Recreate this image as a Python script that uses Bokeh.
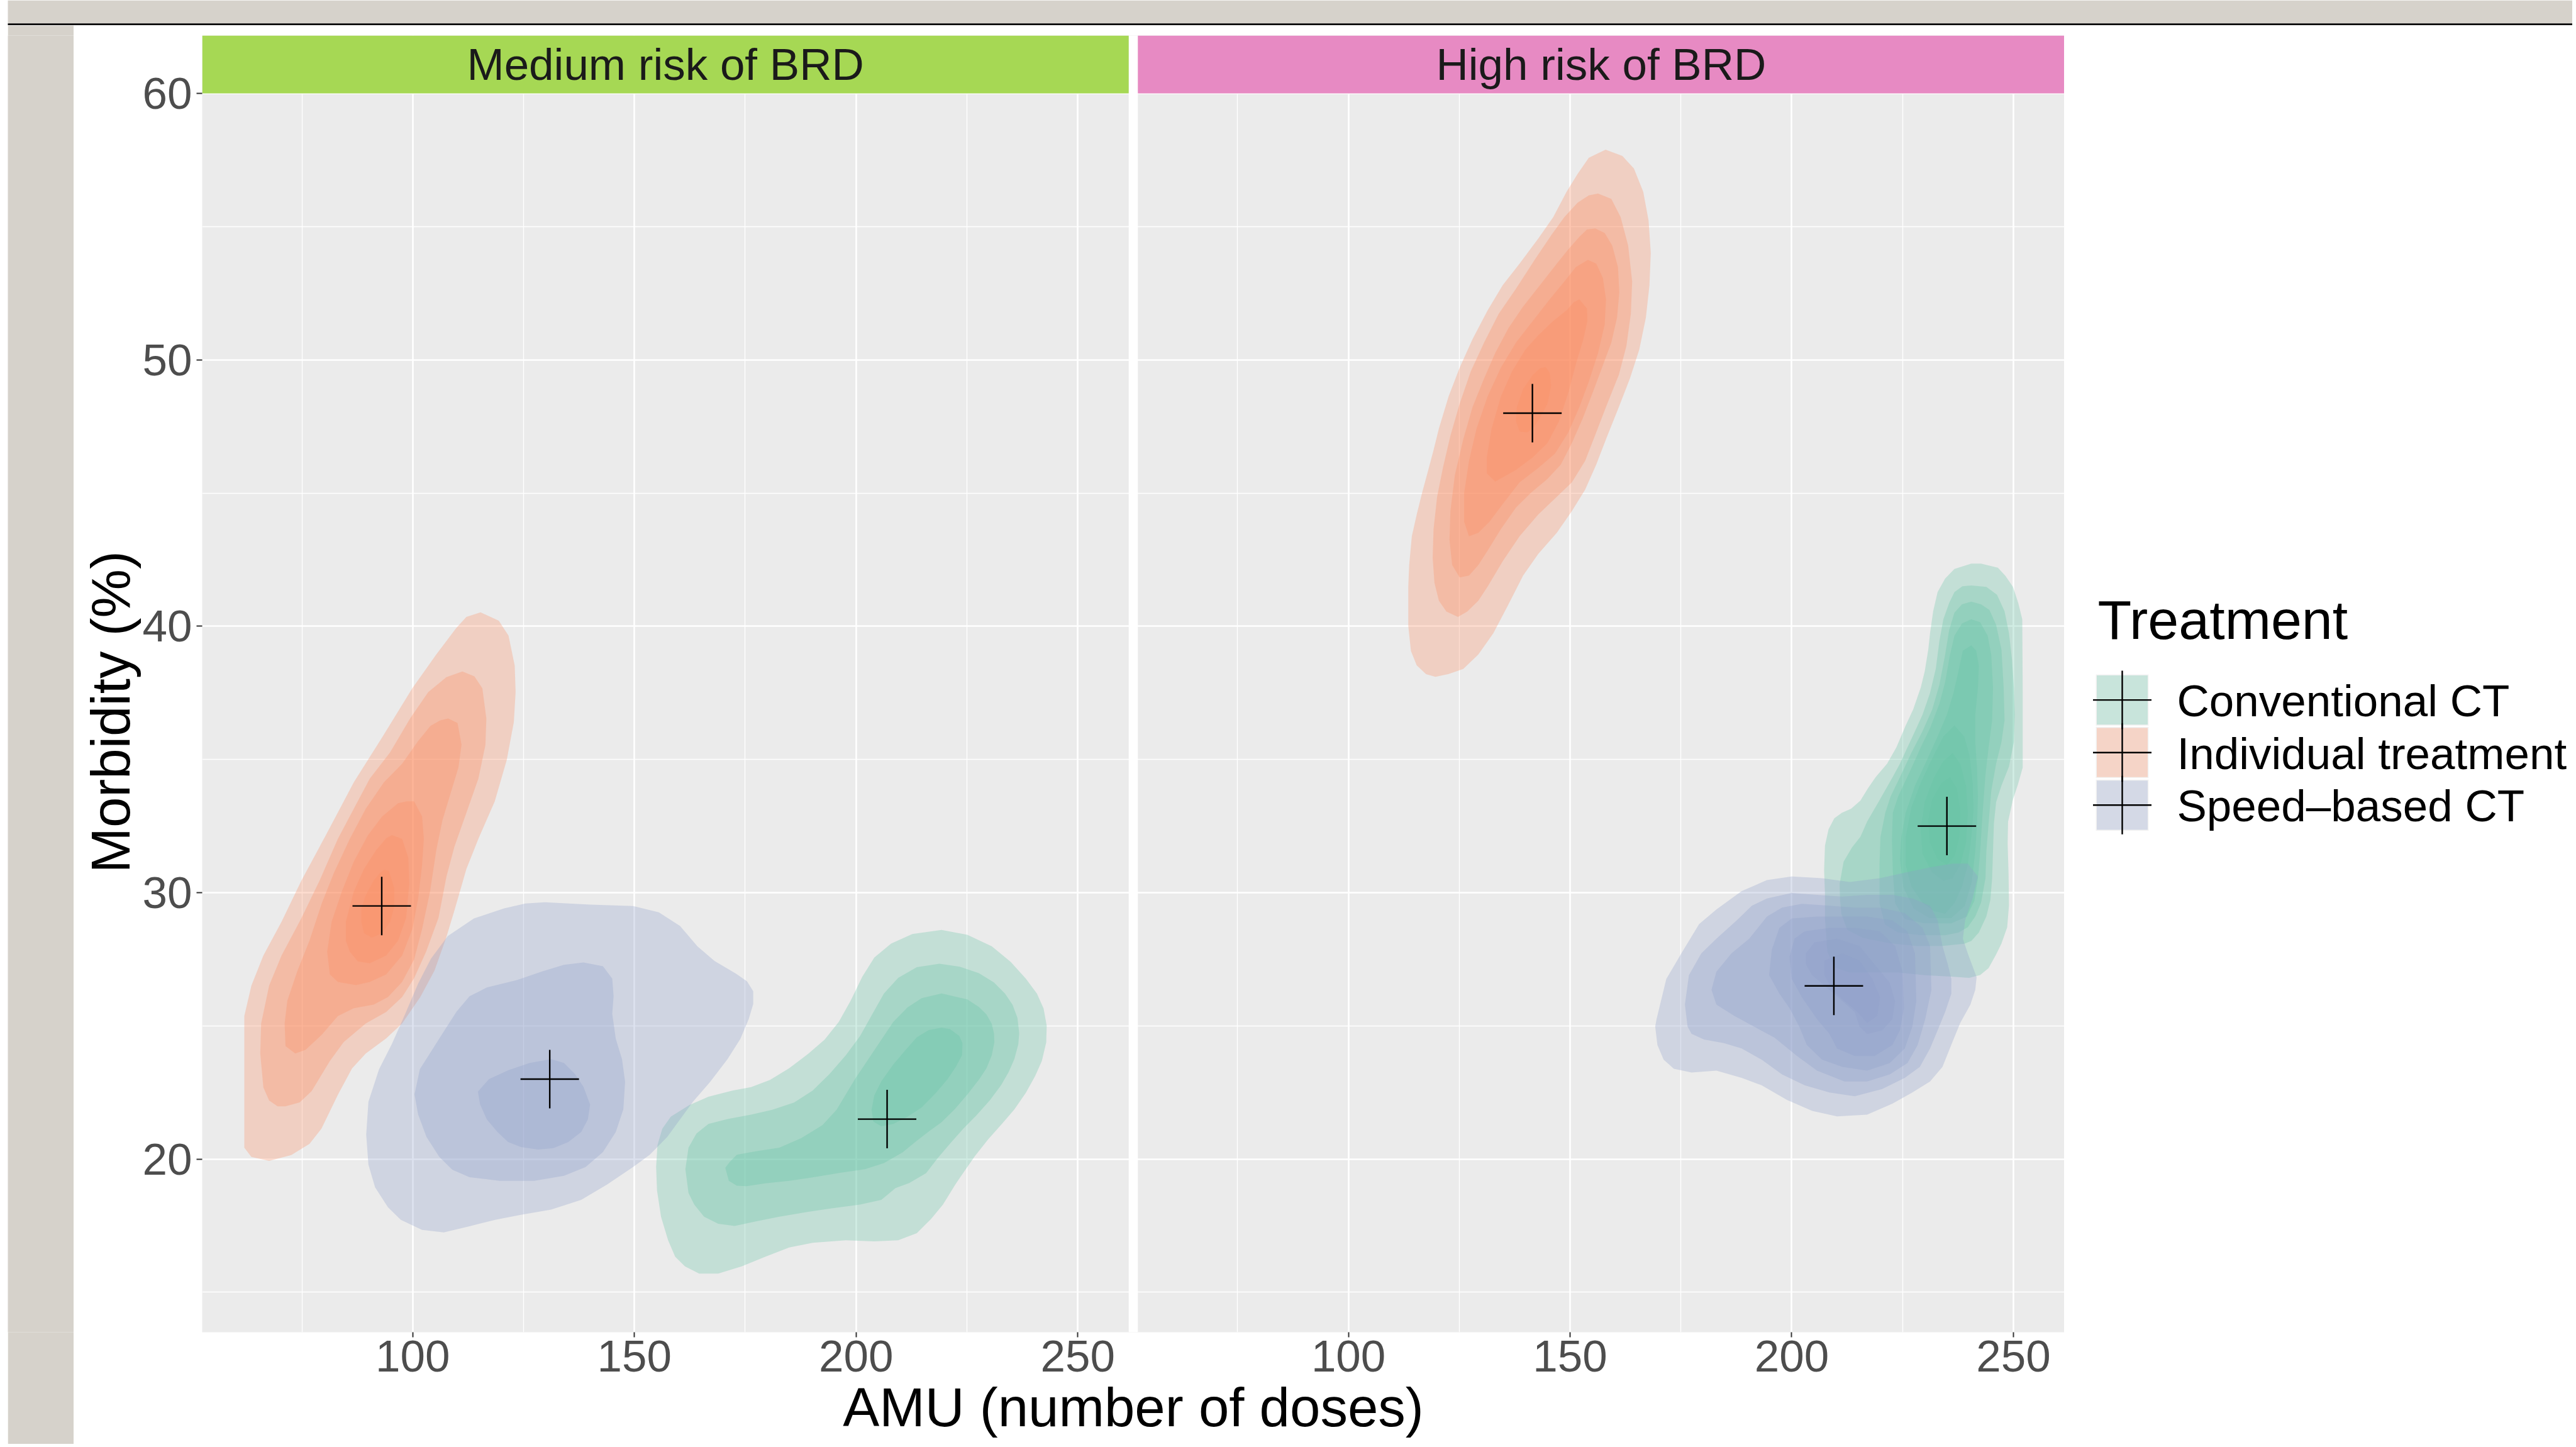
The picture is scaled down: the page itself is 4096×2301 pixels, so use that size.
from bokeh.plotting import figure
from bokeh.models import Range1d, FixedTicker, CustomJSTickFormatter, Title
from bokeh.layouts import row, column
from bokeh.embed import file_html
from bokeh.resources import INLINE
from bokeh.core.properties import value

FONT = "Liberation Sans"

# ---------------- data ----------------
TREATMENTS = ["Conventional CT", "Individual treatment", "Speed\u2013based CT"]
COLORS = ["#66C2A5", "#FC8D62", "#8DA0CB"]
PANELS = ["Medium risk of BRD", "High risk of BRD"]
STRIP_COLORS = ["#A6D854", "#E78AC3"]

X_TICKS = [100, 150, 200, 250]
X_MINOR = [75, 125, 175, 225]
Y_TICKS = [20, 30, 40, 50, 60]
Y_MINOR = [15, 25, 35, 45, 55]

# mean (AMU, morbidity) per treatment: Conventional, Individual, Speed-based
MED_CENTRES = [(207.0, 21.5), (93.0, 29.5), (130.9, 23.0)]
HIGH_CENTRES = [(235.0, 32.5), (141.5, 48.0), (209.5, 26.5)]

# density contour polygons (AMU, morbidity), outer level first
MED_CONV = [
    [(219.3,28.60),(225.1,28.42),(230.6,27.99),(234.9,27.40),(238.3,26.77),(240.8,26.21),(242.3,25.65),(243.0,25.01),
     (242.9,24.38),(241.9,23.68),(240.4,23.12),(238.3,22.49),(235.7,21.86),(232.8,21.30),(229.8,20.74),(226.8,20.11),
     (224.7,19.61),(222.4,19.05),(219.6,18.29),(216.9,17.75),(213.7,17.22),(209.5,16.95),(204.1,16.91),(197.7,16.95),
     (190.2,16.86),(184.9,16.68),(179.5,16.33),(174.2,15.97),(168.9,15.70),(164.6,15.70),(161.4,15.97),(159.2,16.33),
     (157.6,16.95),(156.0,17.84),(155.1,18.82),(154.9,19.71),(155.2,20.52),(156.3,21.14),(158.2,21.59),(162.4,22.03),
     (166.7,22.34),(172.1,22.57),(176.3,22.70),(180.6,22.97),(184.9,23.41),(189.2,23.95),(192.9,24.48),(196.1,25.15),
     (198.8,25.95),(201.4,26.84),(204.1,27.56),(207.9,28.09),(212.7,28.45)],
    [(218.8,27.33),(223.4,27.22),(227.7,26.98),(231.1,26.63),(233.6,26.21),(235.3,25.79),(236.4,25.30),(236.8,24.73),
     (236.6,24.31),(235.7,23.75),(234.4,23.26),(232.7,22.77),(230.2,22.21),(227.2,21.65),(224.3,21.16),(221.3,20.60),
     (218.4,20.03),(215.8,19.47),(212.0,19.10),(208.9,18.91),(205.7,18.47),(200.9,18.29),(194.5,18.15),(189.2,18.02),
     (182.7,17.84),(177.4,17.66),(172.6,17.49),(168.9,17.57),(165.7,17.84),(163.5,18.29),(162.2,18.73),(161.5,19.62),
     (162.2,20.43),(164.0,20.96),(166.7,21.32),(171.0,21.50),(176.3,21.67),(181.1,21.85),(186.0,22.12),(190.2,22.57),
     (194.0,23.19),(197.7,23.90),(200.9,24.62),(203.6,25.42),(206.3,26.22),(209.5,26.80),(213.7,27.20)],
    [(219.3,26.22),(225.1,25.99),(227.7,25.71),(229.4,25.43),(230.6,25.08),(231.1,24.73),(231.2,24.38),(230.6,23.89),
     (229.4,23.40),(227.7,22.98),(225.1,22.42),(222.2,21.86),(219.2,21.37),(216.5,21.05),(213.7,20.69),(210.5,20.25),
     (206.3,19.85),(202.0,19.62),(196.6,19.49),(190.2,19.31),(184.9,19.18),(179.5,19.09),(175.3,18.98),(173.1,19.00),
     (171.3,19.18),(170.5,19.67),(171.5,19.89),(173.1,20.16),(177.4,20.29),(182.7,20.43),(187.6,20.78),(192.4,21.27),
     (195.6,21.85),(199.8,23.01),(204.1,24.08),(208.4,25.15),(211.6,25.69),(214.8,26.04)],
    [(219.3,24.93),(221.2,24.88),(223.3,24.62),(224.0,24.35),(223.9,23.90),(222.5,23.46),(220.7,23.01),(218.0,22.48),
     (214.8,21.94),(211.6,21.59),(208.4,21.32),(205.7,21.23),(203.9,21.41),(203.5,21.85),(204.1,22.39),(205.7,22.92),
     (208.4,23.55),(211.1,24.08),(213.7,24.57),(216.4,24.84)],
]

MED_IND = [
    [(115.3,40.52),(119.4,40.21),(121.6,39.65),(123.0,38.52),(123.2,37.53),(122.8,36.40),(121.2,34.98),(118.5,33.43),
     (114.8,32.02),(112.1,30.89),(109.4,29.33),(107.6,28.34),(104.9,27.07),(101.7,26.08),(97.6,25.09),(94.0,24.53),
     (89.4,23.96),(86.3,23.40),(83.1,22.41),(79.4,21.14),(76.7,20.57),(72.6,20.15),(67.6,19.93),(63.6,20.08),
     (62.0,20.43),(62.0,25.37),(63.6,26.51),(66.3,27.64),(70.4,28.91),(74.9,30.46),(80.4,32.16),(86.7,34.14),
     (93.1,35.83),(99.9,37.67),(105.3,38.94),(109.8,39.93),(112.1,40.35)],
    [(111.2,38.30),(113.9,38.12),(115.7,37.67),(116.6,36.54),(116.4,35.55),(114.8,34.28),(112.1,33.00),(109.4,31.73),
     (107.6,30.60),(105.8,29.05),(103.0,27.78),(100.3,26.79),(97.6,26.08),(94.0,25.52),(89.4,25.09),(84.4,24.39),
     (81.3,23.68),(77.2,22.55),(74.5,22.13),(71.3,21.98),(69.5,21.98),(67.6,22.20),(66.3,22.69),(65.6,23.96),
     (65.8,25.09),(67.6,26.51),(70.4,27.64),(74.9,29.05),(79.0,30.46),(83.1,32.02),(86.7,33.15),(90.3,34.28),
     (94.9,35.27),(99.4,36.54),(103.5,37.53),(107.6,38.09)],
    [(108.0,36.54),(110.1,36.37),(111.0,35.55),(110.3,34.70),(108.5,33.71),(106.7,32.72),(105.3,31.59),(103.9,30.04),
     (102.1,28.63),(100.3,27.49),(97.6,26.65),(94.4,26.08),(91.2,25.80),(86.7,25.66),(83.1,25.37),(79.5,24.67),
     (75.8,24.10),(73.5,23.96),(71.3,24.24),(71.1,25.09),(71.7,25.94),(74.0,27.07),(76.7,28.20),(79.5,29.61),
     (82.2,30.74),(85.8,32.02),(89.4,33.15),(93.5,34.14),(97.6,34.84),(101.2,35.69),(104.0,36.26),(106.2,36.47)],
    [(100.3,33.43),(102.1,32.86),(102.5,32.02),(102.1,31.03),(101.2,29.76),(99.9,28.63),(97.6,27.64),(94.0,26.93),
     (90.3,26.65),(87.2,26.53),(83.1,26.65),(81.3,26.93),(80.7,27.78),(81.7,28.91),(84.0,30.04),(86.7,31.17),
     (89.9,32.16),(93.1,32.86),(96.7,33.36),(98.7,33.43)],
    [(95.3,32.16),(97.6,32.02),(99.0,31.31),(99.2,30.32),(98.5,29.05),(96.7,28.20),(94.0,27.64),(90.3,27.35),
     (87.6,27.42),(85.8,27.78),(84.9,28.20),(84.9,28.91),(86.7,30.04),(89.0,30.89),(91.7,31.59),(94.0,32.04)],
    [(93.5,30.86),(94.6,30.82),(95.8,30.18),(95.8,29.47),(94.9,28.91),(93.1,28.48),(90.8,28.31),(89.0,28.48),
     (88.4,28.91),(88.4,29.40),(89.4,29.90),(91.2,30.46),(92.6,30.74)],
]

MED_SPEED = [
    [(129.8,29.64),(140.0,29.55),(149.7,29.50),(155.5,29.26),(160.3,28.75),(164.2,27.99),(168.1,27.43),(172.9,26.96),
     (175.4,26.67),(176.8,26.30),(176.8,25.82),(175.8,25.26),(173.9,24.51),(171.0,23.75),(167.1,22.90),(163.2,22.15),
     (160.3,21.49),(157.4,20.83),(153.5,20.17),(149.7,19.70),(143.8,19.04),(138.0,18.47),(131.2,18.10),(124.4,17.91),
     (118.6,17.72),(112.8,17.48),(107.0,17.25),(102.1,17.34),(97.3,17.72),(94.4,18.19),(91.5,18.94),(90.0,19.79),
     (89.5,20.92),(90.0,22.15),(92.4,23.37),(95.3,24.32),(98.3,25.45),(101.2,26.58),(104.1,27.52),(107.9,28.37),
     (113.8,29.03),(120.6,29.41),(125.4,29.59)],
    [(138.5,27.38),(142.9,27.24),(145.0,26.77),(145.3,26.11),(145.0,25.45),(145.8,24.51),(147.2,23.75),(147.9,22.90),
     (147.5,21.87),(145.8,21.02),(142.9,20.26),(139.0,19.70),(134.1,19.37),(127.4,19.18),(119.6,19.18),(112.8,19.32),
     (108.9,19.60),(106.0,20.08),(103.1,20.83),(101.2,21.68),(100.4,22.43),(101.6,23.37),(104.1,24.03),(107.0,24.79),
     (109.9,25.54),(112.8,26.11),(116.7,26.44),(123.5,26.72),(129.3,27.05),(134.1,27.29)],
    [(131.2,23.75),(134.1,23.61),(136.6,23.19),(138.5,22.71),(140.0,22.05),(139.5,21.49),(138.0,21.02),(135.1,20.64),
     (131.7,20.41),(128.3,20.36),(124.4,20.45),(121.5,20.64),(119.1,21.02),(116.7,21.49),(115.2,22.05),(114.7,22.53),
     (117.2,23.00),(121.5,23.33),(126.4,23.61)],
]

HIGH_CONV = [
    [(240.5,42.35),(242.7,42.35),(246.5,42.20),(248.2,41.89),(249.9,41.48),(251.1,40.87),(252.0,40.26),(252.1,37.50),
     (252.1,34.70),(251.0,34.05),(249.9,33.50),(248.8,32.67),(248.7,31.85),(248.9,30.75),(249.0,29.52),(248.6,28.70),
     (247.3,28.09),(246.1,27.68),(244.4,27.17),(242.5,26.91),(240.0,26.80),(236.0,26.85),(230.0,26.90),(224.0,27.00),
     (218.0,27.00),(213.0,27.00),(209.5,27.20),(208.0,27.80),(207.5,29.00),(207.5,29.93),(207.3,30.85),(207.5,31.77),
     (208.3,32.38),(209.6,32.79),(211.3,33.00),(213.4,33.15),(215.5,33.46),(217.2,33.92),(218.9,34.33),(221.5,34.84),
     (223.6,35.45),(225.7,36.27),(227.4,36.88),(229.1,37.70),(230.0,38.31),(230.8,39.13),(231.2,39.74),(231.9,40.56),
     (232.9,41.28),(234.6,41.79),(236.7,42.15)],
    [(240.5,41.53),(243.9,41.48),(246.3,41.18),(248.0,40.56),(249.0,39.74),(249.7,38.72),(250.1,37.70),(250.3,36.68),
     (250.1,35.65),(249.0,34.73),(247.3,34.02),(246.1,33.40),(245.6,32.59),(245.4,31.56),(245.2,30.54),(244.8,29.72),
     (243.9,29.11),(242.2,28.50),(240.5,28.19),(238.9,28.08),(234.0,28.00),(228.0,28.00),(222.0,28.10),(216.0,28.30),
     (212.5,28.60),(211.2,29.20),(210.9,29.72),(210.8,30.33),(211.7,31.16),(213.6,31.70),(215.5,32.10),(217.0,32.67),
     (219.9,33.50),(222.7,34.32),(224.4,34.84),(226.1,35.45),(227.8,36.06),(229.5,36.68),(231.2,37.50),(232.5,38.41),
     (233.3,39.44),(234.2,40.26),(235.5,40.87),(236.7,41.28),(238.5,41.50)],
    [(240.5,40.92),(242.7,40.82),(244.6,40.61),(246.1,40.05),(247.3,39.13),(247.8,37.70),(248.0,36.47),(247.3,35.65),
     (246.1,34.84),(245.0,33.81),(244.4,32.59),(243.9,31.56),(243.7,30.54),(242.7,29.62),(241.4,29.11),(239.7,28.70),
     (237.6,28.50),(234.6,28.40),(229.0,28.40),(224.0,28.50),(221.0,28.80),(219.8,29.60),(219.8,31.05),(220.0,32.08),
     (221.1,33.00),(222.3,33.61),(224.4,34.33),(227.0,35.25),(229.5,36.06),(231.7,36.88),(233.3,37.80),(234.6,38.93),
     (235.5,39.85),(236.7,40.51),(238.4,40.82)],
    [(240.5,40.26),(242.5,40.15),(244.2,39.64),(245.0,38.93),(245.4,37.70),(245.2,36.47),(244.4,35.45),(243.7,34.43),
     (243.1,33.10),(242.5,31.56),(242.0,30.54),(241.2,29.70),(239.5,29.10),(236.0,28.85),(230.0,28.85),(225.5,29.00),
     (223.3,29.60),(222.8,30.80),(222.6,32.00),(222.8,33.00),(224.0,33.61),(226.6,34.53),(229.1,35.45),(231.2,36.17),
     (233.3,37.09),(234.6,37.90),(235.7,38.93),(236.7,39.64),(238.4,40.10)],
    [(240.5,39.28),(241.6,39.08),(242.2,38.52),(242.0,37.70),(241.4,36.68),(241.4,35.65),(241.8,34.63),(242.0,33.61),
     (241.8,32.59),(241.4,31.56),(240.6,30.40),(239.0,29.50),(236.0,29.05),(231.0,29.05),(227.5,29.40),(225.2,30.20),
     (224.4,31.26),(224.7,32.06),(225.7,33.00),(227.8,34.02),(230.4,34.94),(232.9,35.86),(235.0,36.68),(236.5,37.50),
     (237.6,38.31),(238.6,39.08)],
    [(236.7,36.27),(238.9,35.86),(240.1,35.14),(240.8,34.12),(241.0,33.10),(240.5,32.08),(239.7,31.05),(238.4,30.23),
     (236.7,29.61),(234.6,29.21),(232.1,29.31),(229.5,29.62),(227.0,30.23),(225.7,31.05),(225.7,32.06),(227.0,33.20),
     (229.1,34.12),(231.7,35.04),(234.2,35.86)],
    [(236.3,35.24),(238.0,34.84),(239.3,34.02),(239.7,33.00),(239.3,31.87),(238.0,31.05),(236.3,30.54),(234.2,30.44),
     (231.7,30.75),(229.5,31.46),(229.1,32.38),(230.0,33.41),(232.1,34.33),(234.2,34.94)],
    [(235.7,34.33),(237.2,33.92),(238.0,33.10),(237.8,32.08),(236.7,31.36),(235.0,31.05),(232.9,31.26),(231.2,31.87),
     (230.8,32.69),(231.7,33.51),(233.8,34.12)],
]

HIGH_IND = [
    [(158.0,57.89),(161.8,57.65),(164.4,57.18),(166.5,56.31),(167.7,55.23),(168.2,54.02),(167.9,52.80),(167.1,51.59),
     (165.6,50.38),(163.5,49.30),(161.0,48.23),(158.4,47.15),(155.9,46.07),(153.4,45.13),(150.4,44.32),(147.0,43.51),
     (142.8,42.71),(139.4,41.90),(136.1,40.82),(132.7,39.74),(129.3,38.94),(125.9,38.40),(122.5,38.20),(119.6,38.10),
     (117.5,38.20),(115.4,38.53),(114.1,39.07),(113.5,40.01),(113.5,41.49),(113.7,42.30),(114.3,43.38),(115.4,44.19),
     (116.6,45.00),(117.9,45.80),(119.2,46.61),(120.4,47.42),(122.6,48.63),(125.1,49.71),(128.0,50.78),(131.4,51.86),
     (134.8,52.80),(138.6,53.61),(142.8,54.55),(146.2,55.36),(149.2,56.31),(151.7,56.98),(154.2,57.58)],
    [(156.3,56.24),(159.3,56.04),(161.4,55.36),(163.1,54.29),(164.0,52.94),(163.7,51.73),(162.7,50.52),(161.0,49.44),
     (158.4,48.36),(155.9,47.28),(153.4,46.21),(150.4,45.40),(147.0,44.86),(142.8,44.19),(138.6,43.38),(134.8,42.44),
     (131.4,41.49),(129.3,40.96),(126.8,40.55),(124.7,40.35),(122.1,40.55),(120.4,40.96),(119.4,41.63),(119.0,42.57),
     (119.2,43.65),(120.0,44.86),(121.3,45.94),(123.0,47.15),(125.1,48.36),(127.6,49.57),(130.6,50.65),(133.9,51.73),
     (137.8,52.67),(142.0,53.75),(145.8,54.69),(148.7,55.36),(151.7,55.90),(154.2,56.17)],
    [(155.7,54.93),(157.8,54.76),(159.5,54.29),(160.8,53.48),(161.1,52.54),(160.6,51.59),(159.3,50.65),(157.2,49.71),
     (155.1,48.77),(152.9,47.82),(150.4,46.88),(147.9,46.07),(144.9,45.53),(141.1,45.00),(137.8,44.46),(134.4,43.65),
     (131.4,42.84),(129.3,42.30),(127.2,41.90),(125.1,41.83),(123.4,42.30),(122.8,43.24),(123.0,44.32),(124.0,45.67),
     (125.9,47.02),(128.0,48.23),(130.6,49.30),(133.1,50.25),(136.1,51.19),(139.4,52.00),(143.2,52.80),(147.0,53.61),
     (149.6,54.15),(152.1,54.62),(153.8,54.89)],
    [(154.0,53.75),(155.9,53.61),(157.4,53.07),(158.1,52.27),(157.8,51.32),(156.3,50.25),(154.2,49.17),(152.1,48.23),
     (149.6,47.28),(146.6,46.48),(142.8,45.94),(138.6,45.40),(134.8,44.59),(131.8,43.92),(129.3,43.51),(127.2,43.38),
     (126.1,43.92),(126.1,45.00),(127.2,46.21),(128.9,47.42),(131.4,48.63),(134.4,49.71),(137.8,50.65),(141.6,51.46),
     (145.4,52.27),(148.7,52.94),(151.3,53.48)],
    [(152.1,52.27),(153.8,51.93),(153.9,51.46),(153.0,50.78),(151.3,49.84),(149.6,48.77),(147.5,47.69),(144.9,46.88),
     (141.6,46.34),(137.8,45.87),(133.1,45.43),(131.2,45.74),(131.2,46.34),(132.3,47.42),(134.4,48.63),(136.9,49.57),
     (139.9,50.38),(142.8,50.92),(146.2,51.46),(149.2,51.86),(150.8,52.16)],
    [(144.5,49.73),(145.4,49.51),(145.7,49.03),(144.9,48.36),(143.2,47.82),(141.6,47.42),(140.3,47.28),(138.6,47.31),
     (137.8,47.69),(138.0,48.23),(139.4,48.90),(141.6,49.44),(143.2,49.68)],
]

HIGH_SPEED = [
    [(169.5,25.25),(171.7,26.76),(175.1,27.72),(179.1,28.82),(183.0,29.37),(188.7,30.06),(194.4,30.47),(200.0,30.61),
     (206.8,30.54),(213.1,30.40),(219.9,30.54),(225.5,30.75),(231.2,30.95),(236.3,31.09),(239.7,31.09),(242.0,30.61),
     (240.8,29.78),(239.1,28.96),(238.6,28.27),(239.7,27.72),(241.7,26.83),(241.4,26.35),(240.3,25.80),(238.0,25.11),
     (236.3,24.42),(234.0,23.46),(231.2,22.91),(227.2,22.50),(222.7,22.08),(217.0,21.67),(210.2,21.60),(204.6,21.81),
     (198.9,22.22),(193.2,22.77),(188.7,23.05),(183.0,23.32),(177.4,23.25),(173.4,23.39),(171.1,23.73),(169.7,24.28),
     (169.2,24.97)],
    [(175.9,25.80),(176.8,26.90),(179.6,27.72),(183.0,28.27),(187.6,28.96),(191.0,29.51),(194.4,29.78),(200.0,29.99),
     (205.7,29.92),(211.4,29.85),(217.0,29.92),(222.7,29.92),(227.2,29.78),(231.2,29.51),(232.9,28.96),(234.0,28.00),
     (235.2,27.31),(236.0,26.76),(236.0,26.21),(234.6,25.52),(232.9,24.83),(231.2,24.15),(228.9,23.46),(225.5,23.05),
     (220.4,22.63),(214.2,22.36),(208.5,22.50),(202.9,22.77),(197.8,23.18),(193.2,23.73),(188.7,24.15),(184.7,24.35),
     (180.2,24.49),(177.4,24.70),(176.5,24.97)],
    [(181.9,26.35),(183.0,27.03),(186.4,27.72),(190.4,28.27),(194.4,29.10),(197.8,29.44),(202.3,29.58),(208.5,29.51),
     (214.2,29.44),(219.9,29.44),(225.5,29.23),(229.5,28.68),(231.2,28.00),(231.5,26.35),(230.1,25.25),(228.4,24.28),
     (226.1,23.60),(222.1,23.18),(217.0,22.91),(211.9,22.91),(205.7,23.32),(201.2,23.87),(196.1,24.56),(191.5,24.97),
     (187.0,25.38),(183.0,25.80)],
    [(194.9,26.90),(195.5,27.86),(197.2,28.68),(200.0,29.03),(205.7,29.10),(211.4,29.10),(217.0,29.10),(222.7,28.96),
     (226.1,28.55),(227.8,27.72),(228.1,25.93),(227.2,24.97),(225.5,24.15),(222.1,23.60),(217.0,23.32),(211.4,23.46),
     (206.8,23.73),(203.4,24.28),(201.7,24.97),(199.5,25.66),(197.2,26.21)],
    [(199.5,27.58),(200.6,28.27),(202.9,28.55),(208.5,28.68),(214.2,28.68),(219.9,28.55),(223.3,28.00),(225.0,27.03),
     (225.3,25.66),(224.4,24.83),(222.7,24.28),(218.7,23.87),(214.2,23.87),(210.2,24.15),(208.5,24.70),(205.7,25.25),
     (202.3,26.07),(200.0,26.76)],
    [(203.2,27.72),(205.1,28.13),(210.2,28.27),(215.3,28.00),(218.7,27.31),(222.1,26.62),(223.3,25.93),(222.7,25.25),
     (220.4,24.83),(217.0,24.70),(215.3,24.97),(214.2,25.52),(211.4,25.93),(208.5,26.35),(204.6,26.90),(203.2,27.31)],
    [(207.4,27.45),(211.4,27.72),(215.3,27.45),(218.2,26.76),(219.9,26.07),(219.3,25.38),(217.0,25.11),(214.8,25.52),
     (211.9,25.93),(209.1,26.35),(207.4,26.90)],
]

MED_LEVELS = [MED_CONV, MED_IND, MED_SPEED]
HIGH_LEVELS = [HIGH_CONV, HIGH_IND, HIGH_SPEED]

# ---------------- layout constants (pixels) ----------------
W, H = 4090, 2296
TOP_H = 40
WHITE_W = 12
LEFT_W = 117
MAIN_W = 3165
LEG_W = W - LEFT_W - MAIN_W
MAIN_H = H - TOP_H
FRAME_L = 204
FRAME_T = 16
FRAME_H = 2062
FRAME_B = MAIN_H - FRAME_T - FRAME_H
F_TOP = TOP_H + FRAME_T          # page y of frame top
F_BOT = F_TOP + FRAME_H          # page y of frame bottom

XMIN, XMAX = 52.5, 261.5
YMIN, YMAX = 13.5, 60.0
YTOP = 62.173          # top of the strip band
GAP = 2.07
OFF = (XMAX - XMIN) + GAP
GREY = "#D6D2CB"

def side(width, xr, bg):
    p = figure(width=width, height=MAIN_H, x_range=xr, y_range=Range1d(F_BOT, F_TOP), output_backend="svg",
               toolbar_location=None, x_axis_type=None, y_axis_type=None,
               min_border_left=0, min_border_right=0, min_border_top=FRAME_T, min_border_bottom=FRAME_B)
    p.outline_line_color = None
    p.background_fill_color = bg
    p.border_fill_color = bg
    p.grid.visible = False
    return p

# top chrome
top = figure(width=W, height=TOP_H, x_range=Range1d(0, W), y_range=Range1d(TOP_H, 0), output_backend="svg",
             toolbar_location=None, x_axis_type=None, y_axis_type=None, min_border=0)
top.outline_line_color = None
top.background_fill_color = "white"
top.border_fill_color = "white"
top.grid.visible = False
top.quad(left=[WHITE_W], right=[W], top=[0], bottom=[36.7], fill_color=GREY, line_color=None)
top.quad(left=[WHITE_W], right=[W], top=[36.7], bottom=[TOP_H], fill_color="black", line_color=None)

# left chrome: thin white column, then grey band
left_white = side(WHITE_W, Range1d(0, WHITE_W), "white")
left_grey = side(LEFT_W - WHITE_W, Range1d(WHITE_W, LEFT_W), GREY)

# main panels (strips live in the top band of the frame)
main = figure(width=MAIN_W, height=MAIN_H, x_range=Range1d(XMIN, XMAX + OFF), y_range=Range1d(YMIN, YTOP),
              output_backend="svg", toolbar_location=None,
              min_border_left=FRAME_L, min_border_right=0, min_border_top=FRAME_T, min_border_bottom=FRAME_B)
main.extra_x_ranges = {"p2": Range1d(XMIN - OFF, XMAX)}
main.outline_line_color = None
main.background_fill_color = "#EBEBEB"
main.border_fill_color = "white"

xt_all = X_TICKS + [t + OFF for t in X_TICKS]
xm_all = X_MINOR + [t + OFF for t in X_MINOR]

main.xgrid.ticker = FixedTicker(ticks=xt_all, minor_ticks=xm_all)
main.ygrid.ticker = FixedTicker(ticks=Y_TICKS, minor_ticks=Y_MINOR)
for g in (main.xgrid, main.ygrid):
    g.grid_line_color = "white"
    g.grid_line_width = 2.6
    g.minor_grid_line_color = "white"
    g.minor_grid_line_width = 1.3

main.xaxis.ticker = FixedTicker(ticks=xt_all)
main.xaxis.formatter = CustomJSTickFormatter(args=dict(off=OFF, lim=XMAX + 1),
                                             code="return String(Math.round(tick > lim ? tick - off : tick));")
main.yaxis.ticker = FixedTicker(ticks=Y_TICKS)
for ax in (main.xaxis[0], main.yaxis[0]):
    ax.axis_line_color = None
    ax.major_tick_line_color = "#333333"
    ax.major_tick_line_width = 2
    ax.major_tick_in = 0
    ax.minor_tick_line_color = None
    ax.major_label_text_font = FONT
    ax.major_label_text_font_size = "71px"
    ax.major_label_text_color = "#4D4D4D"
    ax.axis_label_text_font = FONT
    ax.axis_label_text_font_size = "87px"
    ax.axis_label_text_font_style = "normal"
    ax.axis_label_text_color = "black"
main.xaxis.major_tick_out = 8
main.xaxis.major_label_standoff = 5
main.xaxis.axis_label = "AMU (number of doses)"
main.xaxis.axis_label_standoff = 5
main.yaxis.major_tick_out = 9
main.yaxis.major_label_standoff = 7

# y title centred on the panels (not on the strip band): start 730 px above the frame bottom
ytitle = Title(text="Morbidity (%)", align="left", offset=730, standoff=0,
               text_font=FONT, text_font_size="87px", text_font_style="normal", text_color="black")
main.add_layout(ytitle, "left")

# white gap between the panels (and strips)
main.quad(left=[XMAX], right=[XMAX + GAP], bottom=[YMIN], top=[YTOP], fill_color="white", line_color=None)

def draw_levels(levels, color, rng):
    xs = [[pt[0] for pt in lev] for lev in levels]
    ys = [[pt[1] for pt in lev] for lev in levels]
    kw = {} if rng is None else {"x_range_name": rng}
    main.patches(xs=xs, ys=ys, fill_color=color, fill_alpha=0.3, line_color=None, **kw)

for levels, col in zip(MED_LEVELS, COLORS):
    draw_levels(levels, col, None)
for levels, col in zip(HIGH_LEVELS, COLORS):
    draw_levels(levels, col, "p2")

main.scatter(x=[c[0] for c in MED_CENTRES], y=[c[1] for c in MED_CENTRES], marker="cross",
             size=93, line_color="black", line_width=2.4)
main.scatter(x=[c[0] for c in HIGH_CENTRES], y=[c[1] for c in HIGH_CENTRES], marker="cross",
             size=93, line_color="black", line_width=2.4, x_range_name="p2")

# facet strips
for i, (name, col) in enumerate(zip(PANELS, STRIP_COLORS)):
    kw = {} if i == 0 else {"x_range_name": "p2"}
    main.quad(left=[XMIN], right=[XMAX], bottom=[YMAX], top=[YTOP], fill_color=col, line_color=None, **kw)
    main.text(x=[(XMIN + XMAX) / 2], y=[(YMAX + YTOP) / 2], text=[name], text_font=value(FONT),
              text_font_size="71px", text_color="#1A1A1A", text_align="center", text_baseline="middle", **kw)

# legend (page pixel coordinates)
x0 = LEFT_W + MAIN_W
leg = side(LEG_W, Range1d(x0, W), "white")
KEY_L, KEY_R = 3332, 3416
KEY_C0, KEY_STEP, KEY_HALF = 1112.6, 83.6, 40.6
centres = [KEY_C0 + KEY_STEP * i for i in range(len(TREATMENTS))]
leg.text(x=[3335], y=[985], text=["Treatment"], text_font=value(FONT), text_font_size="88px",
         text_color="black", text_align="left", text_baseline="middle")
leg.quad(left=[KEY_L] * 3, right=[KEY_R] * 3, top=[c - KEY_HALF for c in centres],
         bottom=[c + KEY_HALF for c in centres], fill_color="#F2F2F2", line_color=None)
leg.quad(left=[KEY_L + 1.5] * 3, right=[KEY_R - 1.5] * 3, top=[c - KEY_HALF + 1.5 for c in centres],
         bottom=[c + KEY_HALF - 1.5 for c in centres], fill_color=COLORS, fill_alpha=0.3, line_color=None)
leg.scatter(x=[(KEY_L + KEY_R) / 2] * 3, y=centres, marker="cross", size=93, line_color="black", line_width=2.4)
leg.text(x=[3461] * 3, y=[c + 1.5 for c in centres], text=TREATMENTS, text_font=value(FONT),
         text_font_size="71px", text_color="black", text_align="left", text_baseline="middle")

layout = column(top, row(left_white, left_grey, main, leg))
open("out.html", "w").write(file_html(layout, INLINE))
